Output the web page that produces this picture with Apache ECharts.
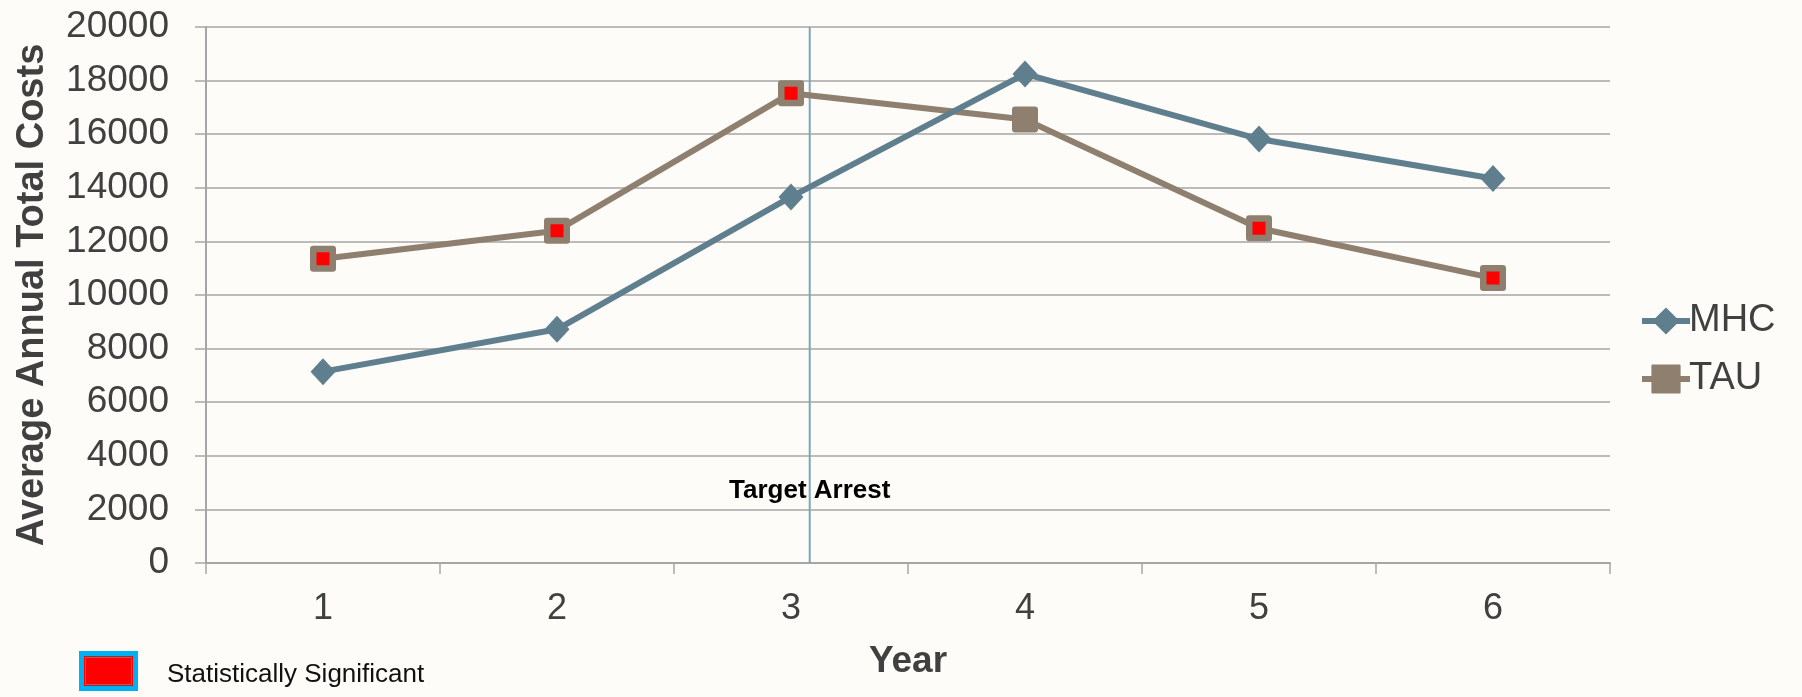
<!DOCTYPE html>
<html>
<head>
<meta charset="utf-8">
<title>Average Annual Total Costs by Year</title>
<script src="https://cdn.jsdelivr.net/npm/echarts@6/dist/echarts.min.js"></script>
<style>
  html, body { margin: 0; padding: 0; background: #fdfcf8; }
  #chart { width: 1802px; height: 697px; }
</style>
</head>
<body>
<div id="chart"></div>
<script>
// Year categories and average annual total costs per group
const years = ['1', '2', '3', '4', '5', '6'];
const mhcCosts = [7140, 8720, 13660, 18250, 15820, 14350];
const tauCosts = [11350, 12400, 17530, 16550, 12490, 10630];
// Years where the group difference is statistically significant
const significant = [true, true, true, false, true, true];
// Position of the target arrest along the year axis, and the height of its caption
const targetArrestYear = 3.08;
const targetArrestLabelCost = 2700;

const MHC_COLOR = '#5f7f8e';
const TAU_COLOR = '#8f7f6e';
const SIG_COLOR = '#ff0000';
const TEXT_COLOR = '#404040';
const GRID_COLOR = '#a6a6a6';
const FONT = 'Liberation Sans, Arial, sans-serif';

const chart = echarts.init(document.getElementById('chart'), null, { renderer: 'canvas' });

const tauData = tauCosts.map((v, i) =>
  significant[i] ? { value: v, itemStyle: { color: SIG_COLOR } } : v
);

chart.setOption({
  backgroundColor: '#fdfcf8',
  animation: false,
  grid: { left: 206, right: 192, top: 27, bottom: 134 },
  legend: {
    data: ['MHC', 'TAU'],
    orient: 'vertical',
    left: 1634,
    top: 297,
    itemWidth: 48,
    itemHeight: 34,
    itemGap: 20,
    lineStyle: { width: 6 },
    textStyle: { fontFamily: FONT, fontSize: 38, color: TEXT_COLOR, padding: [0, 0, 0, -6] }
  },
  xAxis: [
    {
      type: 'category',
      data: years,
      boundaryGap: true,
      name: 'Year',
      nameLocation: 'middle',
      nameGap: 80,
      nameTextStyle: { fontFamily: FONT, fontSize: 37, fontWeight: 'bold', color: TEXT_COLOR },
      axisLine: { lineStyle: { color: GRID_COLOR, width: 2 } },
      axisTick: { show: true, length: 11, inside: false, lineStyle: { color: GRID_COLOR, width: 1.5 } },
      axisLabel: { fontFamily: FONT, fontSize: 36, color: TEXT_COLOR, margin: 28 },
      splitLine: { show: false }
    },
    {
      // hidden numeric year scale used to place the target arrest marker between categories
      type: 'value',
      min: 0.5,
      max: 6.5,
      show: false
    }
  ],
  yAxis: {
    type: 'value',
    min: 0,
    max: 20000,
    interval: 2000,
    name: 'Average Annual Total Costs',
    nameLocation: 'middle',
    nameGap: 154,
    nameTextStyle: { fontFamily: FONT, fontSize: 38, fontWeight: 'bold', color: TEXT_COLOR },
    axisLine: { show: true, lineStyle: { color: GRID_COLOR, width: 2 } },
    axisTick: { show: true, length: 11, lineStyle: { color: GRID_COLOR, width: 1.5 } },
    axisLabel: {
      fontFamily: FONT, fontSize: 37, color: TEXT_COLOR, margin: 37,
      formatter: (v) => String(v)
    },
    splitLine: { show: true, lineStyle: { color: GRID_COLOR, width: 1.5 } }
  },
  series: [
    {
      name: 'MHC',
      type: 'line',
      z: 4,
      data: mhcCosts,
      symbol: 'diamond',
      symbolSize: [25, 27],
      lineStyle: { color: MHC_COLOR, width: 6 },
      itemStyle: { color: MHC_COLOR }
    },
    {
      name: 'TAU',
      type: 'line',
      z: 3,
      data: tauData,
      symbol: 'rect',
      symbolSize: 19.5,
      lineStyle: { color: TAU_COLOR, width: 6 },
      itemStyle: { color: TAU_COLOR, borderColor: TAU_COLOR, borderWidth: 6.5, borderJoin: 'round' }
    },
    {
      name: 'Target Arrest',
      type: 'line',
      xAxisIndex: 1,
      z: 2,
      silent: true,
      data: [[targetArrestYear, 0], [targetArrestYear, 20000]],
      symbol: 'none',
      lineStyle: { color: '#7ea5ba', width: 2 },
      markPoint: {
        symbol: 'rect',
        symbolSize: 0,
        silent: true,
        label: {
          show: true,
          position: 'inside',
          formatter: 'Target Arrest',
          fontFamily: FONT,
          fontSize: 26,
          fontWeight: 'bold',
          color: '#000000'
        },
        data: [{ coord: [targetArrestYear, targetArrestLabelCost] }]
      }
    }
  ],
  graphic: [
    {
      type: 'group',
      left: 79,
      top: 651,
      children: [
        { type: 'rect', shape: { x: 0, y: 0, width: 59, height: 40 }, style: { fill: '#00b0f0' } },
        { type: 'rect', shape: { x: 5, y: 5, width: 49, height: 30 }, style: { fill: SIG_COLOR } },
        { type: 'rect', shape: { x: 6.5, y: 6.5, width: 46, height: 27 }, style: { fill: null, stroke: MHC_COLOR, lineWidth: 1 } },
        { type: 'rect', shape: { x: 8, y: 8, width: 43, height: 24 }, style: { fill: SIG_COLOR } }
      ]
    },
    {
      type: 'text',
      left: 167,
      top: 662,
      style: { text: 'Statistically Significant', fontFamily: FONT, fontSize: 26, fill: '#111111' }
    }
  ]
});
</script>
</body>
</html>
